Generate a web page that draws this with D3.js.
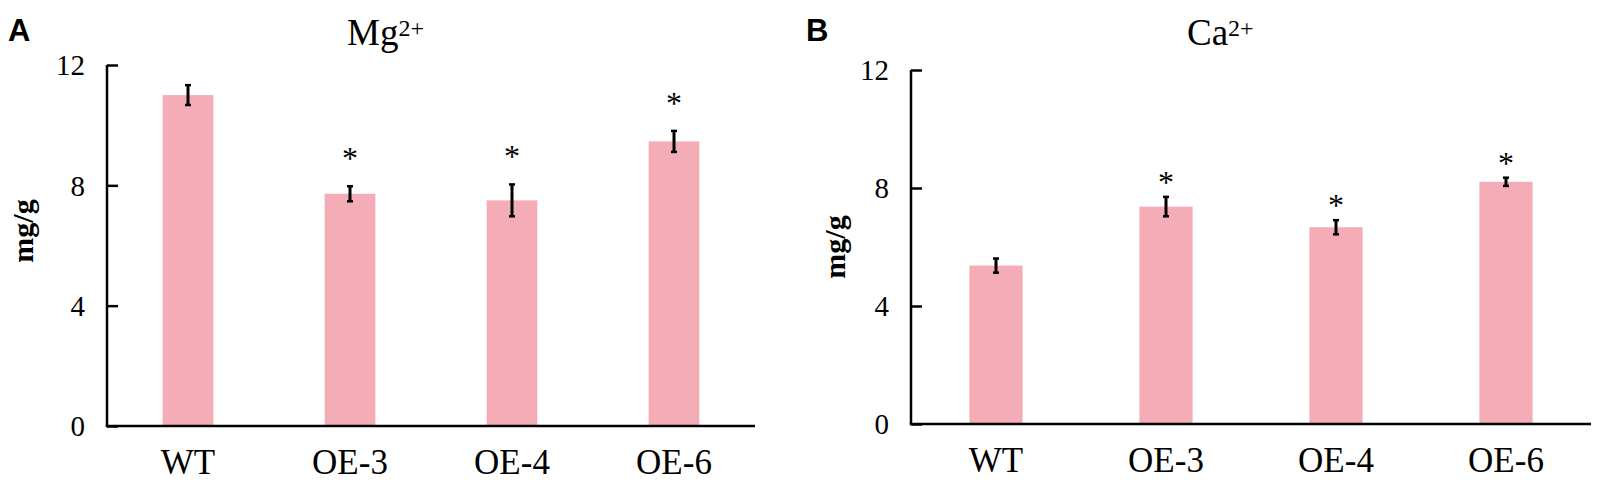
<!DOCTYPE html>
<html>
<head>
<meta charset="utf-8">
<script src="https://cdn.jsdelivr.net/npm/d3@7/dist/d3.min.js"></script>
<style>
  html, body { margin: 0; padding: 0; background: #ffffff; }
  svg { display: block; }
</style>
</head>
<body>
<svg id="chart" width="1606" height="490"></svg>
<script>
// ---- data ----
const categories = ["WT", "OE-3", "OE-4", "OE-6"];
const mgMeans  = [11.0, 7.72, 7.50, 9.46];
const mgErrors = [0.33, 0.25, 0.53, 0.35];
const mgSignificant = [false, true, true, true];
const caMeans  = [5.37, 7.37, 6.67, 8.21];
const caErrors = [0.24, 0.33, 0.24, 0.14];
const caSignificant = [false, true, true, true];
const yTicks = [0, 4, 8, 12];
const yDomain = [0, 12];

// ---- layout ----
const serif = "'Liberation Serif', 'Times New Roman', serif";
const sans = "'Liberation Sans', Arial, sans-serif";
const barColor = "#F4ACB7";

const panels = [
  { letter: "A", ion: "Mg", charge: "2+", means: mgMeans, errors: mgErrors, sig: mgSignificant,
    x0: 107, x1: 755, yTop: 65, yBottom: 426, letterX: 8, titleX: 347, ylabX: 24, ylabY: 231, starGap: 33 },
  { letter: "B", ion: "Ca", charge: "2+", means: caMeans, errors: caErrors, sig: caSignificant,
    x0: 911, x1: 1591, yTop: 70, yBottom: 424, letterX: 806, titleX: 1187, ylabX: 836, ylabY: 247, starGap: 20 }
];

const svg = d3.select("#chart");

panels.forEach(p => {
  const g = svg.append("g");
  const x = d3.scaleBand().domain(categories).range([p.x0, p.x1]).paddingInner(0).paddingOuter(0);
  const y = d3.scaleLinear().domain(yDomain).range([p.yBottom, p.yTop]);
  const barW = x.bandwidth() * 0.313;

  const rows = categories.map((c, i) => ({ c, m: p.means[i], e: p.errors[i], s: p.sig[i] }));

  // bars
  g.selectAll("rect.bar").data(rows).enter().append("rect")
    .attr("class", "bar")
    .attr("x", d => x(d.c) + x.bandwidth() / 2 - barW / 2)
    .attr("width", barW)
    .attr("y", d => y(d.m))
    .attr("height", d => y(0) - y(d.m))
    .attr("fill", barColor);

  // error bars
  const eb = g.selectAll("g.err").data(rows).enter().append("g").attr("class", "err");
  eb.append("line")
    .attr("x1", d => x(d.c) + x.bandwidth() / 2).attr("x2", d => x(d.c) + x.bandwidth() / 2)
    .attr("y1", d => y(d.m - d.e)).attr("y2", d => y(d.m + d.e))
    .attr("stroke", "#000").attr("stroke-width", 3);
  ["lo", "hi"].forEach(k => {
    eb.append("line")
      .attr("x1", d => x(d.c) + x.bandwidth() / 2 - 3).attr("x2", d => x(d.c) + x.bandwidth() / 2 + 3)
      .attr("y1", d => y(k === "lo" ? d.m - d.e : d.m + d.e))
      .attr("y2", d => y(k === "lo" ? d.m - d.e : d.m + d.e))
      .attr("stroke", "#000").attr("stroke-width", 2.5);
  });

  // significance stars
  g.selectAll("text.star").data(rows.filter(d => d.s)).enter().append("text")
    .attr("class", "star")
    .attr("x", d => x(d.c) + x.bandwidth() / 2)
    .attr("y", d => y(d.m + d.e) - p.starGap + 16)
    .attr("text-anchor", "middle")
    .attr("font-family", serif).attr("font-size", 32)
    .attr("fill", "#000")
    .text("*");

  // y axis
  const yAxis = d3.axisRight(y).tickValues(yTicks).tickSize(11).tickFormat(d3.format("d"));
  const ya = g.append("g").attr("transform", `translate(${p.x0},0)`).call(yAxis);
  ya.select(".domain").attr("d", `M0,${p.yTop}V${p.yBottom}`).attr("stroke", "#000").attr("stroke-width", 2.5);
  ya.selectAll(".tick line").attr("stroke", "#000").attr("stroke-width", 2.5);
  ya.selectAll(".tick text")
    .attr("x", -22).attr("dy", "0.34em")
    .attr("text-anchor", "end")
    .attr("font-family", serif).attr("font-size", 29).attr("fill", "#000");

  // x axis
  const xAxis = d3.axisBottom(x).tickSize(0).tickPadding(0);
  const xa = g.append("g").attr("transform", `translate(0,${p.yBottom})`).call(xAxis);
  xa.select(".domain").attr("d", `M${p.x0 - 1.25},0H${p.x1}`).attr("stroke", "#000").attr("stroke-width", 2.5);
  xa.selectAll(".tick text")
    .attr("y", 48).attr("dy", 0)
    .attr("font-family", serif).attr("font-size", 35).attr("fill", "#000");

  // panel letter
  svg.append("text").attr("x", p.letterX).attr("y", 41)
    .attr("font-family", sans).attr("font-weight", "bold").attr("font-size", 31).attr("fill", "#000")
    .text(p.letter);

  // title
  const t = svg.append("text").attr("x", p.titleX).attr("y", 45)
    .attr("font-family", serif).attr("font-size", 37).attr("fill", "#000");
  t.append("tspan").text(p.ion);
  t.append("tspan").attr("font-size", 24).attr("dy", -9).text(p.charge);

  // y label
  svg.append("text")
    .attr("transform", `translate(${p.ylabX},${p.ylabY}) rotate(-90)`)
    .attr("text-anchor", "middle").attr("dy", "0.3em")
    .attr("font-family", serif).attr("font-weight", "bold").attr("font-size", 30).attr("fill", "#000")
    .text("mg/g");
});
</script>
</body>
</html>
